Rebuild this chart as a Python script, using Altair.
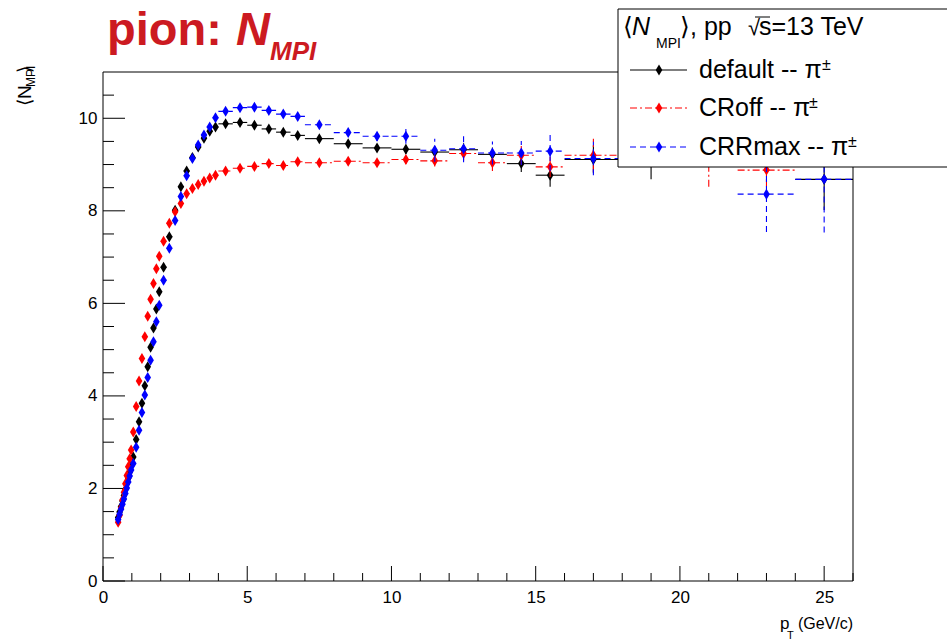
import altair as alt
import pandas as pd

FONT = "Liberation Sans"
TITLE_RED = "#cc1a21"

# pT bin edges (GeV/c)
pt_edges = [0.5, 0.55, 0.6, 0.65, 0.7, 0.75, 0.8, 0.85, 0.9, 0.95, 1.0,
            1.1, 1.2, 1.3, 1.4, 1.5, 1.6, 1.7, 1.8, 1.9, 2.0,
            2.2, 2.4, 2.6, 2.8, 3.0, 3.2, 3.4, 3.6, 3.8, 4.0,
            4.5, 5.0, 5.5, 6.0, 6.5, 7.0,
            8, 9, 10, 11, 12, 13, 14, 15, 16,
            18, 20, 22, 24, 26]

# <N_MPI> per bin, default tune
default_vals = [1.37, 1.49, 1.61, 1.73, 1.85, 1.98, 2.10, 2.22, 2.35, 2.48,
                2.68, 3.06, 3.44, 3.84, 4.22, 4.63, 5.05, 5.47, 5.88, 6.25,
                6.78, 7.44, 8.01, 8.52, 8.86, 9.15, 9.38, 9.57, 9.72, 9.81,
                9.88, 9.91, 9.85, 9.77, 9.70, 9.63,
                9.56, 9.45, 9.36, 9.33, 9.27, 9.32, 9.22, 9.02, 8.77,
                9.11, 9.10, 9.30, 9.40, 8.68]
default_errs = [0.01, 0.01, 0.01, 0.01, 0.01, 0.01, 0.01, 0.01, 0.01, 0.01,
                0.01, 0.01, 0.01, 0.01, 0.01, 0.01, 0.01, 0.01, 0.01, 0.01,
                0.01, 0.01, 0.01, 0.01, 0.02, 0.02, 0.02, 0.02, 0.02, 0.02,
                0.02, 0.02, 0.03, 0.03, 0.04, 0.04,
                0.04, 0.06, 0.08, 0.10, 0.12, 0.14, 0.15, 0.18, 0.25,
                0.30, 0.42, 0.25, 0.35, 0.66]

# colour reconnection switched off
croff_vals = [1.27, 1.42, 1.58, 1.75, 1.92, 2.10, 2.28, 2.47, 2.64, 2.83,
              3.22, 3.77, 4.32, 4.81, 5.28, 5.72, 6.09, 6.43, 6.75, 7.02,
              7.34, 7.73, 7.98, 8.16, 8.37, 8.48, 8.57, 8.64, 8.71, 8.77,
              8.86, 8.92, 8.96, 9.02, 8.98, 9.06,
              9.04, 9.07, 9.04, 9.11, 9.08, 9.24, 9.04, 9.20, 8.95,
              9.20, 9.30, 9.10, 8.88, 9.50]
croff_errs = [0.01, 0.01, 0.01, 0.01, 0.01, 0.01, 0.01, 0.01, 0.01, 0.01,
              0.01, 0.01, 0.01, 0.01, 0.01, 0.01, 0.01, 0.01, 0.01, 0.01,
              0.01, 0.01, 0.01, 0.01, 0.02, 0.02, 0.02, 0.02, 0.02, 0.02,
              0.02, 0.02, 0.03, 0.03, 0.04, 0.04,
              0.05, 0.06, 0.08, 0.10, 0.12, 0.15, 0.18, 0.20, 0.22,
              0.36, 0.25, 0.58, 0.35, 0.40]

# colour reconnection range at maximum
crrmax_vals = [1.33, 1.44, 1.55, 1.66, 1.77, 1.89, 2.01, 2.14, 2.27, 2.40,
               2.54, 2.89, 3.26, 3.64, 4.02, 4.40, 4.77, 5.17, 5.60, 5.96,
               6.50, 7.19, 7.79, 8.31, 8.76, 9.13, 9.42, 9.64, 9.81, 10.01,
               10.15, 10.23, 10.24, 10.17, 10.09, 10.04,
               9.86, 9.69, 9.61, 9.61, 9.31, 9.34, 9.25, 9.25, 9.29,
               9.13, 9.35, 9.45, 8.36, 8.68]
crrmax_errs = [0.01, 0.01, 0.01, 0.01, 0.01, 0.01, 0.01, 0.01, 0.01, 0.01,
               0.01, 0.01, 0.01, 0.01, 0.01, 0.01, 0.01, 0.01, 0.01, 0.01,
               0.01, 0.01, 0.01, 0.01, 0.02, 0.02, 0.02, 0.02, 0.02, 0.02,
               0.02, 0.02, 0.03, 0.03, 0.04, 0.04,
               0.05, 0.07, 0.10, 0.16, 0.25, 0.29, 0.25, 0.26, 0.43,
               0.36, 0.30, 0.40, 0.82, 1.15]

series_names = ["default", "CRoff", "CRRmax"]
series_colors = ["#000000", "#ff0000", "#0000ff"]
series_dash = [None, [7, 3, 2, 3], [6, 4]]

x_label_values = [0, 5, 10, 15, 20, 25]
y_label_values = [0, 2, 4, 6, 8, 10]
x_major_ticks = [0, 5, 10, 15, 20, 25]
x_minor_ticks = [1, 2, 3, 4, 6, 7, 8, 9, 11, 12, 13, 14, 16, 17, 18, 19, 21, 22, 23, 24, 26]
y_major_ticks = [0, 2, 4, 6, 8, 10]
y_minor_ticks = [0.5, 1, 1.5, 2.5, 3, 3.5, 4.5, 5, 5.5, 6.5, 7, 7.5, 8.5, 9, 9.5, 10.5]

W, H = 750, 509
DIAMOND = "M0,-1L0.6,0L0,1L-0.6,0Z"

x_scale = alt.Scale(domain=[0, 26], nice=False, zero=False)
y_scale = alt.Scale(domain=[0, 11], nice=False, zero=False)
x_axis = alt.Axis(values=x_label_values, title=None, grid=False, ticks=False, tickSize=0,
                  domain=False, labelFont=FONT, labelFontSize=17, labelColor="black",
                  labelPadding=8, labelFlush=False, labelOverlap=False, format="d")
y_axis = alt.Axis(values=y_label_values, title=None, grid=False, ticks=False, tickSize=0,
                  domain=False, labelFont=FONT, labelFontSize=17, labelColor="black",
                  labelPadding=6, labelFlush=False, labelOverlap=False, format="d")

one = pd.DataFrame({"k": [0]})


def series_frame(vals, errs):
    df = pd.DataFrame({"lo": pt_edges[:-1], "hi": pt_edges[1:], "val": vals, "err": errs})
    df["pt"] = (df["lo"] + df["hi"]) / 2
    df["ylo"] = df["val"] - df["err"]
    df["yhi"] = df["val"] + df["err"]
    return df


def line_kw(color, dash):
    kw = dict(color=color, strokeWidth=1.1)
    if dash:
        kw["strokeDash"] = dash
    return kw


def px_text(text, x, y, size=25, **kw):
    return alt.Chart(one).mark_text(text=text, font=FONT, fontSize=size, color=kw.pop("color", "black"),
                                    align=kw.pop("align", "left"), baseline=kw.pop("baseline", "alphabetic"),
                                    **kw).encode(x=alt.value(x), y=alt.value(y))


layers = []

# plot frame
layers.append(alt.Chart(one).mark_rect(fillOpacity=0, stroke="black", strokeWidth=1).encode(
    x=alt.value(0), x2=alt.value(W), y=alt.value(0), y2=alt.value(H)))

# inward ticks
for vals, length in [(x_major_ticks, 15), (x_minor_ticks, 8)]:
    layers.append(alt.Chart(pd.DataFrame({"v": vals})).mark_rule(color="black", strokeWidth=1).encode(
        x=alt.X("v:Q", scale=x_scale, axis=x_axis), y=alt.value(H), y2=alt.value(H - length)))
for vals, length in [(y_major_ticks, 22), (y_minor_ticks, 11)]:
    layers.append(alt.Chart(pd.DataFrame({"v": vals})).mark_rule(color="black", strokeWidth=1).encode(
        y=alt.Y("v:Q", scale=y_scale, axis=y_axis), x=alt.value(0), x2=alt.value(length)))

# data: bin-width bars, error bars and markers
for vals, errs, color, dash in zip([default_vals, croff_vals, crrmax_vals],
                                   [default_errs, croff_errs, crrmax_errs],
                                   series_colors, series_dash):
    base = alt.Chart(series_frame(vals, errs))
    layers.append(base.mark_rule(**line_kw(color, dash)).encode(
        x=alt.X("lo:Q", scale=x_scale, axis=x_axis), x2="hi:Q",
        y=alt.Y("val:Q", scale=y_scale, axis=y_axis)))
    layers.append(base.mark_rule(**line_kw(color, dash)).encode(
        x=alt.X("pt:Q", scale=x_scale, axis=x_axis),
        y=alt.Y("ylo:Q", scale=y_scale, axis=y_axis), y2="yhi:Q"))
    layers.append(base.mark_point(shape=DIAMOND, filled=True, size=121, color=color, opacity=1).encode(
        x=alt.X("pt:Q", scale=x_scale, axis=x_axis),
        y=alt.Y("val:Q", scale=y_scale, axis=y_axis)))

# legend box
layers.append(alt.Chart(one).mark_rect(fill="white", stroke="black", strokeWidth=1).encode(
    x=alt.value(515), x2=alt.value(900), y=alt.value(-63), y2=alt.value(95)))

# legend header
layers.append(px_text("⟨", 520, -37))
layers.append(px_text("N", 529, -37, fontStyle="italic"))
layers.append(px_text("MPI", 553, -24, size=14))
layers.append(px_text("⟩, pp", 577, -37))
layers.append(px_text("√", 645, -37, size=22))
layers.append(px_text("s=13 TeV", 656, -37))
layers.append(alt.Chart(one).mark_rule(color="black", strokeWidth=1).encode(
    x=alt.value(652), x2=alt.value(667), y=alt.value(-55)))

# legend entries
entry_rows = [-2, 36, 75]
entry_labels = ["default -- π", "CRoff -- π", "CRRmax -- π"]
pm_x = [719, 706, 745]
for row, label, color, dash, px in zip(entry_rows, entry_labels, series_colors, series_dash, pm_x):
    layers.append(alt.Chart(one).mark_rule(**line_kw(color, dash)).encode(
        x=alt.value(527), x2=alt.value(584), y=alt.value(row)))
    layers.append(alt.Chart(one).mark_point(shape=DIAMOND, filled=True, size=121, color=color, opacity=1).encode(
        x=alt.value(556), y=alt.value(row)))
    layers.append(px_text(label, 596, row + 8))
    layers.append(px_text("±", px, row, size=16))

# title
layers.append(px_text("pion:", 4, -27, size=47, fontWeight="bold", color=TITLE_RED))
layers.append(px_text("N", 133, -27, size=47, fontWeight="bold", fontStyle="italic", color=TITLE_RED))
layers.append(px_text("MPI", 167, -12, size=26, fontWeight="bold", fontStyle="italic", color=TITLE_RED))

# y axis title, rotated
layers.append(px_text("⟨N", -72, 34, size=19, angle=270))
layers.append(px_text("MPI", -68, 15, size=12, angle=270))
layers.append(px_text("⟩", -72, 1, size=19, angle=270))

# x axis title
layers.append(px_text("p", 677, 557, size=17))
layers.append(px_text("T", 684, 567, size=11))
layers.append(px_text("(GeV/c)", W, 557, size=16, align="right"))

chart = alt.layer(*layers).properties(
    width=W, height=H,
    autosize=alt.AutoSizeParams(type="none"),
    padding={"left": 103, "top": 72, "right": 94, "bottom": 63},
    background="white",
).configure_view(strokeWidth=0)

chart.save("out.html", embed_options={"renderer": "svg", "actions": False})
